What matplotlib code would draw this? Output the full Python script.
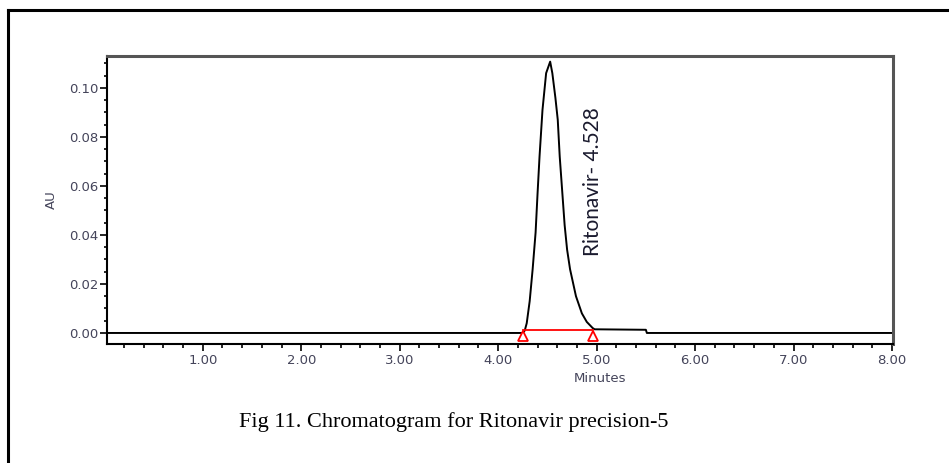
import matplotlib
matplotlib.use("Agg")
import matplotlib.pyplot as plt
from matplotlib.ticker import MultipleLocator, FixedLocator
from matplotlib.lines import Line2D

# chromatogram trace (minutes, AU)
time_min = [0.03, 4.25, 4.27, 4.29, 4.32, 4.35, 4.38, 4.40, 4.42, 4.45, 4.487,
            4.528, 4.55, 4.581, 4.605, 4.625, 4.65, 4.675, 4.70, 4.73, 4.79,
            4.85, 4.90, 4.96, 4.98, 5.50, 5.51, 8.01]
absorbance = [0.0, 0.0, 0.001, 0.004, 0.013, 0.026, 0.041, 0.057, 0.072, 0.091, 0.106,
              0.1107, 0.106, 0.096, 0.087, 0.072, 0.058, 0.044, 0.034, 0.026, 0.015,
              0.008, 0.0045, 0.002, 0.0015, 0.0013, 0.0, 0.0]

# integration baseline (peak start / end)
base_time = [4.25, 4.965]
base_au = [0.0011, 0.0011]
marker_au = [-0.0014, -0.0014]

peak_label = "Ritonavir- 4.528"
peak_rt = 4.528
caption = "Fig 11. Chromatogram for Ritonavir precision-5"

x_ticks = [1, 2, 3, 4, 5, 6, 7, 8]
y_ticks = [0.0, 0.02, 0.04, 0.06, 0.08, 0.10]

fig = plt.figure(figsize=(9.49, 4.63), dpi=100)
ax = fig.add_axes([107.3 / 949, 1 - 344 / 463, (893 - 107.3) / 949, (344 - 56) / 463])

ax.plot(time_min, absorbance, color="black", lw=1.4)
ax.plot(base_time, base_au, color="red", lw=1.3)
ax.plot(base_time, marker_au, ls="none", marker="^", ms=7, mfc="white", mec="red", mew=1.3)

ax.text(peak_rt + 0.43, 0.0616, peak_label, rotation=90, ha="center", va="center",
        fontsize=15, family="Lato", color="#1a1a2e")

ax.set_xlim(0.03, 8.01)
ax.set_ylim(-0.0045, 0.113)

ax.xaxis.set_major_locator(FixedLocator(x_ticks))
ax.xaxis.set_minor_locator(MultipleLocator(0.2))
ax.yaxis.set_major_locator(FixedLocator(y_ticks))
ax.yaxis.set_minor_locator(MultipleLocator(0.005))
ax.set_xticklabels(["%.2f" % v for v in x_ticks])
ax.set_yticklabels(["%.2f" % v for v in y_ticks])

ax.tick_params(which="both", direction="out", width=1.2, color="black",
               labelsize=9.5, labelcolor="#44445a")
ax.tick_params(axis="x", which="major", length=5, pad=2.5)
ax.tick_params(axis="x", which="minor", length=3)
ax.tick_params(axis="y", which="major", length=5, pad=1.5)
ax.tick_params(axis="y", which="minor", length=2.2)
for lab in ax.get_xticklabels() + ax.get_yticklabels():
    lab.set_family("DejaVu Sans")

ax.set_xlabel("Minutes", fontsize=9.5, color="#44445a")
ax.xaxis.set_label_coords((600 - 107.3) / (893 - 107.3), -(379 - 344) / (344 - 56))
ax.xaxis.label.set_va("center")
ax.set_ylabel("AU", fontsize=9.5, color="#44445a")
ax.yaxis.set_label_coords(-(107.3 - 51) / (893 - 107.3), 0.5)
ax.yaxis.label.set_va("center")

for side in ["left", "bottom"]:
    ax.spines[side].set_linewidth(1.5)
    ax.spines[side].set_color("black")
for side in ["top", "right"]:
    ax.spines[side].set_linewidth(2.2)
    ax.spines[side].set_color("#555555")

# outer frame of the figure box
fig.add_artist(Line2D([8 / 949, 8 / 949], [0, 1 - 10 / 463], color="black", lw=2.2,
                      transform=fig.transFigure))
fig.add_artist(Line2D([8 / 949, 1], [1 - 10 / 463, 1 - 10 / 463], color="black", lw=2.2,
                      transform=fig.transFigure))

fig.text(454 / 949, 1 - 422 / 463, caption, ha="center", va="center",
         fontsize=16, family="Liberation Serif", color="black")

fig.savefig("out.png", dpi=100)
